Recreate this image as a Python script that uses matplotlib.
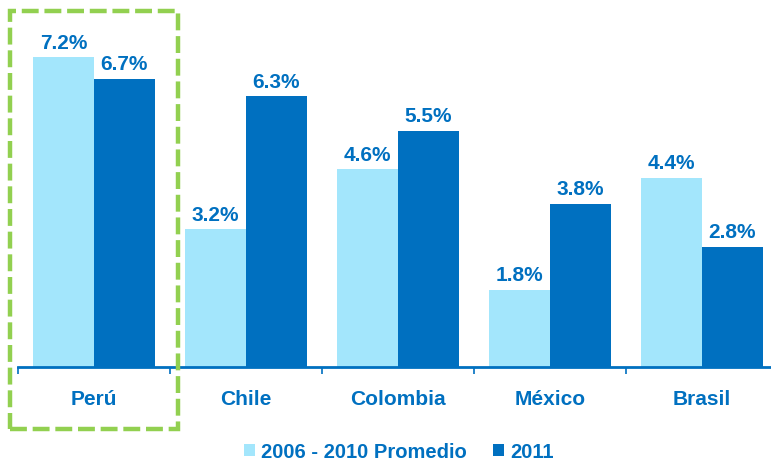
import numpy as np
import matplotlib.pyplot as plt
from matplotlib.patches import Rectangle

countries = ['Perú', 'Chile', 'Colombia', 'México', 'Brasil']
promedio = [7.2, 3.2, 4.6, 1.8, 4.4]
y2011 = [6.7, 6.3, 5.5, 3.8, 2.8]
series_names = ['2006 - 2010 Promedio', '2011']

light = '#A3E6FC'
dark = '#0070C0'
txt = '#0070C0'

plt.rcParams['font.family'] = ['Liberation Sans', 'DejaVu Sans']
plt.rcParams['font.weight'] = 'bold'

fig = plt.figure(figsize=(7.71, 4.64), dpi=100)
# axes: x from 18px to 778px, baseline at 96px from bottom
ax = fig.add_axes([18 / 771, 96 / 464, 760 / 771, 344 / 464])

x = np.arange(len(countries))
w = 0.4
b1 = ax.bar(x - w / 2, promedio, w, color=light, label=series_names[0])
b2 = ax.bar(x + w / 2, y2011, w, color=dark, label=series_names[1])

for bars, vals in ((b1, promedio), (b2, y2011)):
    for r, v in zip(bars, vals):
        ax.annotate(f'{v:.1f}%', (r.get_x() + r.get_width() / 2, v),
                    xytext=(0, 4), textcoords='offset points',
                    ha='center', va='bottom', color=txt,
                    fontsize=15, fontweight='bold')

ax.set_xlim(-0.5, len(countries) - 0.5)
ax.set_ylim(0, 8)
for s in ['top', 'right', 'left']:
    ax.spines[s].set_visible(False)
ax.spines['bottom'].set_color(dark)
ax.spines['bottom'].set_linewidth(2)
ax.set_yticks([])
ax.set_xticks(x)
ax.set_xticklabels(countries, color=txt, fontsize=15, fontweight='bold')
ax.tick_params(axis='x', which='major', length=0, pad=16)
ax.set_xticks(np.arange(-0.5, len(countries)), minor=True)
ax.tick_params(axis='x', which='minor', length=5, color=dark, width=1.2, direction='out')

leg = fig.legend(loc='center', bbox_to_anchor=(399 / 771, 11 / 464), ncol=2,
                 frameon=False, fontsize=14.5, handlelength=0.55, handleheight=0.55,
                 handletextpad=0.3, columnspacing=1.3)
for t in leg.get_texts():
    t.set_color(txt)
    t.set_fontweight('bold')

box = Rectangle((10 / 771, 34 / 464), 168 / 771, 418 / 464, transform=fig.transFigure,
                fill=False, edgecolor='#92D050', linewidth=3.2, linestyle=(0, (3.8, 1.3)))
fig.patches.append(box)

fig.savefig('out.png', dpi=100)
